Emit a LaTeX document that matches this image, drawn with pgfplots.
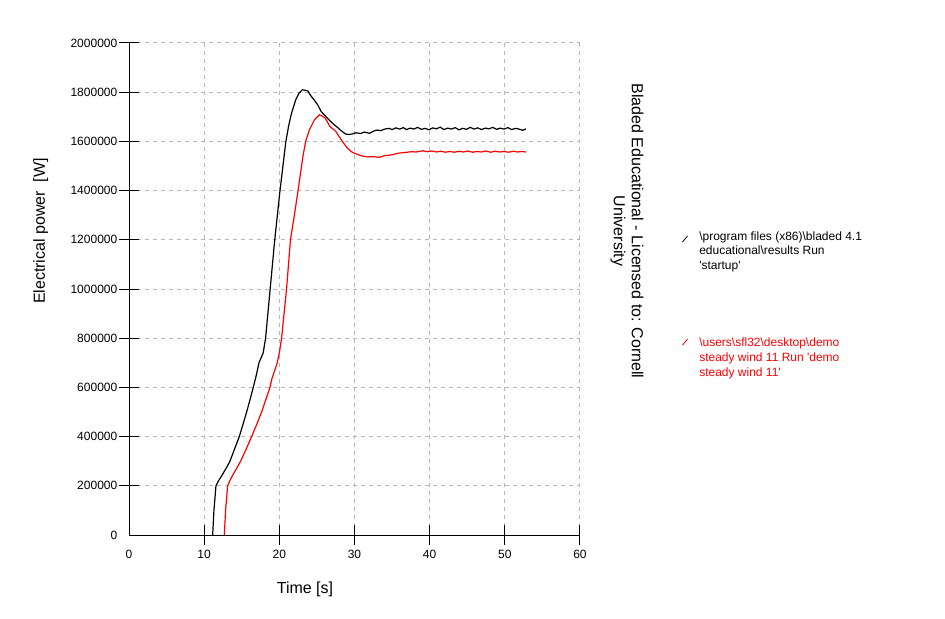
\documentclass[border=0pt]{standalone}
\usepackage{pgfplots}
\pgfplotsset{compat=1.18}
\usepackage{fontspec}
\setmainfont{Liberation Sans}
\begin{document}
\begin{tikzpicture}
\useasboundingbox (0,0) rectangle (708.75pt,463.5pt);
\begin{axis}[
  at={(96.75pt,62.25pt)}, anchor=south west,
  scale only axis, width=338.25pt, height=369pt,
  xmin=0, xmax=60, ymin=0, ymax=2000000,
  axis lines=left, axis line style={-, black, line width=0.75pt},
  xtick={10,20,...,60}, ytick={200000,400000,...,2000000},
  extra x ticks={0}, extra y ticks={0},
  extra tick style={grid=none, major tick style={draw=none}},
  grid=major, grid style={dashed, black!28, line width=0.75pt},
  tick align=center, major tick length=15pt,
  tick style={black, line width=0.75pt},
  scaled ticks=false,
  /pgf/number format/1000 sep={},
  /pgf/number format/fixed,
  /pgf/number format/assume math mode=true,
  ticklabel style={font=\fontsize{9}{11}\selectfont},
  yticklabel style={xshift=2.25pt},
  clip=false,
]
\addplot[black, line width=0.9pt] coordinates {
(11.13,0) (11.3,100000) (11.57,200000) (11.9,220000) (12.32,240000) (12.9,270000)
(13.43,300000) (14.05,350000) (14.67,400000) (15.17,450000) (15.65,500000)
(16.1,550000) (16.53,600000) (16.94,650000) (17.29,700000) (17.6,722000)
(17.85,740000) (18.17,800000) (18.78,1000000) (19.39,1200000) (20.09,1400000)
(20.87,1600000) (21.25,1665000) (21.6,1712000) (22.18,1769000) (22.6,1795000)
(23.06,1810000) (23.4,1808000) (23.8,1805000) (24.2,1785000) (24.54,1772000)
(25.1,1749000) (25.55,1722000) (26.2,1701000) (26.7,1685000) (27.29,1668000)
(27.7,1658000) (28.17,1645000) (28.8,1630000) (29.3,1628000) (29.8,1631000)
(30.2,1635000) (30.8,1632000) (31.3,1638000) (32.0,1633000) (32.5,1641000)
(32.9,1646000) (33.5,1644000) (34.0,1650000) (34.6,1653000) (35.0,1648000)
(35.5,1655000) (36.0,1650000) (36.5,1656000) (36.9,1648000) (37.4,1654000)
(37.9,1650000) (38.4,1657000) (38.9,1649000) (39.4,1653000) (39.9,1647000)
(40.4,1655000) (40.9,1651000) (41.4,1658000) (41.9,1648000) (42.4,1654000)
(42.9,1650000) (43.4,1656000) (43.9,1647000) (44.4,1653000) (44.9,1649000)
(45.4,1657000) (45.9,1650000) (46.4,1655000) (46.9,1648000) (47.4,1654000)
(47.9,1651000) (48.4,1657000) (48.9,1649000) (49.4,1654000) (49.9,1650000)
(50.4,1656000) (50.9,1648000) (51.4,1653000) (51.9,1650000) (52.4,1645000)
(52.8,1651000)
};
\addplot[red, line width=0.9pt] coordinates {
(12.68,0) (12.85,100000) (13.12,200000) (13.4,220000) (13.74,240000) (14.3,270000)
(14.85,300000) (15.6,350000) (16.31,400000) (17.0,450000) (17.64,500000)
(18.2,550000) (18.75,600000) (19.0,634000) (19.72,700000) (20.0,740000)
(20.3,800000) (20.96,1000000) (21.48,1200000) (22.0,1300000) (22.49,1400000)
(23.14,1539000) (23.5,1600000) (24.0,1647000) (24.67,1688000) (25.33,1708000)
(25.7,1703000) (26.1,1695000) (26.72,1661000) (27.5,1641000) (28.38,1600000)
(29.04,1573000) (29.6,1558000) (30.0,1552000) (30.48,1546000) (31.1,1540000)
(31.8,1537000) (32.5,1538000) (33.3,1535000) (34.0,1542000) (34.6,1544000)
(35.2,1547000) (35.8,1552000) (36.4,1554000) (37.0,1556000) (37.6,1558000)
(38.2,1557000) (39.1,1562000) (39.7,1558000) (40.3,1561000) (40.9,1557000)
(41.5,1560000) (42.1,1556000) (42.7,1559000) (43.3,1556000) (43.9,1560000)
(44.5,1557000) (45.1,1561000) (45.7,1556000) (46.3,1559000) (46.9,1557000)
(47.5,1561000) (48.1,1556000) (48.7,1560000) (49.3,1557000) (49.9,1559000)
(50.5,1556000) (51.1,1560000) (51.7,1557000) (52.3,1559000) (52.8,1557000)
};
\end{axis}
% axis labels
\node[rotate=90, font=\fontsize{12}{14}\selectfont] at (30.5pt,290.25pt) {Electrical power\ \ [W]};
\node[font=\fontsize{12}{14}\selectfont] at (228.75pt,21.75pt) {Time [s]};
% rotated title
\node[rotate=-90, align=center, font=\fontsize{12}{13.5}\selectfont] at (470.25pt,290.25pt)
  {Bladed Educational - Licensed to: Cornell\\University};
% legend
\draw[black, line width=0.6pt] (511.9pt,282pt) -- (515.6pt,286.5pt);
\draw[red, line width=0.6pt] (511.9pt,204.75pt) -- (515.6pt,209.25pt);
\begin{scope}[every node/.style={anchor=base west, inner sep=0pt, font=\fontsize{9}{11}\selectfont}]
\node[black] at (524.25pt,283.1pt) {\textbackslash program files (x86)\textbackslash bladed 4.1};
\node[black] at (524.25pt,272.25pt) {educational\textbackslash results Run};
\node[black] at (524.25pt,261.4pt) {\textquotesingle startup\textquotesingle};
\node[red] at (524.25pt,203.6pt) {\textbackslash users\textbackslash sfl32\textbackslash desktop\textbackslash demo};
\node[red] at (524.25pt,192.4pt) {steady wind 11 Run \textquotesingle demo};
\node[red] at (524.25pt,181.5pt) {steady wind 11\textquotesingle};
\end{scope}
\end{tikzpicture}
\end{document}
